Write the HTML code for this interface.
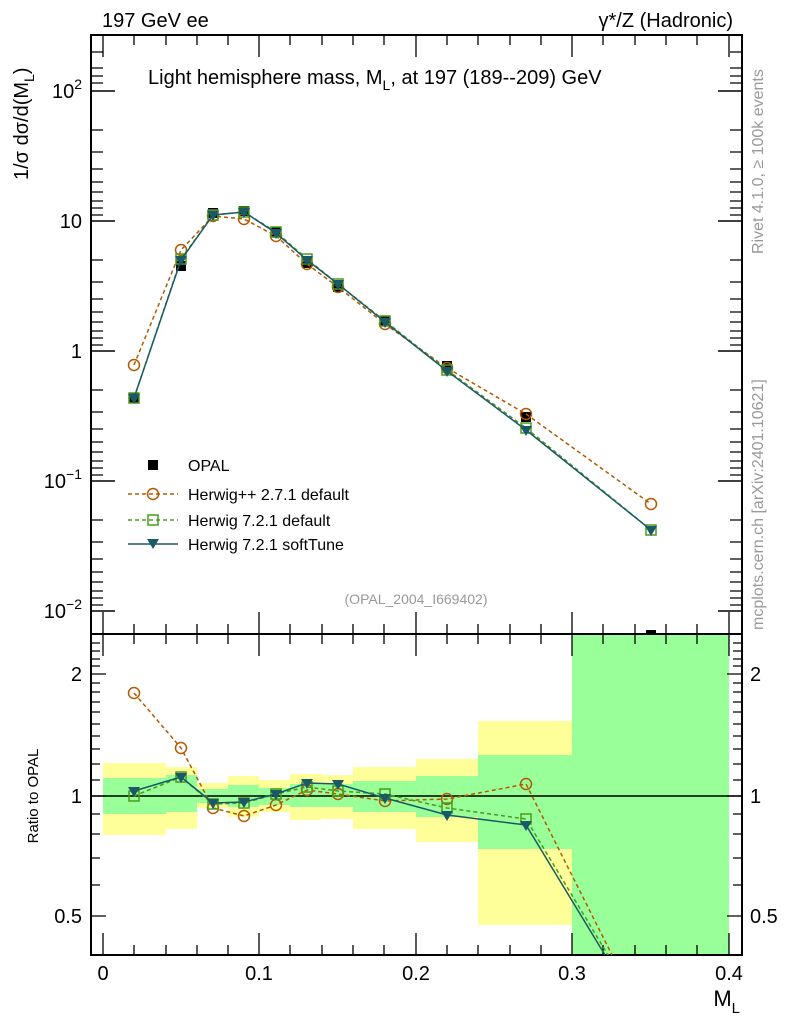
<!DOCTYPE html>
<html><head><meta charset="utf-8"><style>body{margin:0;background:#fff}svg{display:block}text{font-family:"Liberation Sans",sans-serif}</style></head><body>
<svg width="786" height="1024" viewBox="0 0 786 1024" xmlns="http://www.w3.org/2000/svg">
<g>
<rect x="103" y="763" width="63" height="72" fill="#ffff99"/><rect x="103" y="778" width="63" height="36" fill="#99ff99"/>
<rect x="166" y="767" width="31" height="62" fill="#ffff99"/><rect x="166" y="775" width="31" height="37" fill="#99ff99"/>
<rect x="197" y="783" width="31" height="25" fill="#ffff99"/><rect x="197" y="789" width="31" height="14" fill="#99ff99"/>
<rect x="228" y="776" width="31" height="41" fill="#ffff99"/><rect x="228" y="785" width="31" height="22" fill="#99ff99"/>
<rect x="259" y="780" width="31" height="32" fill="#ffff99"/><rect x="259" y="788" width="31" height="17" fill="#99ff99"/>
<rect x="290" y="774" width="32" height="46" fill="#ffff99"/><rect x="290" y="784" width="32" height="23" fill="#99ff99"/>
<rect x="322" y="775" width="31" height="44" fill="#ffff99"/><rect x="322" y="784" width="31" height="23" fill="#99ff99"/>
<rect x="353" y="767" width="63" height="62" fill="#ffff99"/><rect x="353" y="781" width="63" height="31" fill="#99ff99"/>
<rect x="416" y="759" width="62" height="83" fill="#ffff99"/><rect x="416" y="776" width="62" height="41" fill="#99ff99"/>
<rect x="478" y="721" width="94" height="204" fill="#ffff99"/><rect x="478" y="755" width="94" height="94" fill="#99ff99"/>
<rect x="572" y="634" width="157" height="321" fill="#99ff99"/>
</g>
<line x1="91" y1="796" x2="742" y2="796" stroke="#000" stroke-width="1.5"/>
<rect x="91" y="35" width="651" height="599" fill="none" stroke="#000" stroke-width="2"/>
<rect x="91" y="634" width="651" height="321" fill="none" stroke="#000" stroke-width="2"/>
<g stroke="#000" stroke-width="1.5">
<line x1="91" y1="91" x2="115" y2="91"/><line x1="742" y1="91" x2="718" y2="91"/>
<line x1="91" y1="221" x2="115" y2="221"/><line x1="742" y1="221" x2="718" y2="221"/>
<line x1="91" y1="351" x2="115" y2="351"/><line x1="742" y1="351" x2="718" y2="351"/>
<line x1="91" y1="481" x2="115" y2="481"/><line x1="742" y1="481" x2="718" y2="481"/>
<line x1="91" y1="611" x2="115" y2="611"/><line x1="742" y1="611" x2="718" y2="611"/>
</g>
<g stroke="#000" stroke-width="1.2">
<path d="M91 52h12M91 68h12M91 76h12M91 83h12M91 130h12M91 152h12M91 169h12M91 182h12M91 192h12M91 201h12M91 208h12M91 215h12M91 260h12M91 282h12M91 299h12M91 312h12M91 322h12M91 331h12M91 338h12M91 345h12M91 390h12M91 412h12M91 429h12M91 442h12M91 452h12M91 461h12M91 468h12M91 475h12M91 520h12M91 542h12M91 559h12M91 572h12M91 582h12M91 591h12M91 598h12M91 605h12"/>
<path d="M742 52h-12M742 68h-12M742 76h-12M742 83h-12M742 130h-12M742 152h-12M742 169h-12M742 182h-12M742 192h-12M742 201h-12M742 208h-12M742 215h-12M742 260h-12M742 282h-12M742 299h-12M742 312h-12M742 322h-12M742 331h-12M742 338h-12M742 345h-12M742 390h-12M742 412h-12M742 429h-12M742 442h-12M742 452h-12M742 461h-12M742 468h-12M742 475h-12M742 520h-12M742 542h-12M742 559h-12M742 572h-12M742 582h-12M742 591h-12M742 598h-12M742 605h-12"/>
</g>
<g stroke="#000" stroke-width="1.3">
<path d="M103 634v-22M259 634v-22M416 634v-22M572 634v-22M729 634v-22M103 35v22M259 35v22M416 35v22M572 35v22M729 35v22"/>
<path d="M134 634v-10M166 634v-10M197 634v-10M228 634v-10M290 634v-10M322 634v-10M353 634v-10M384 634v-10M447 634v-10M478 634v-10M510 634v-10M541 634v-10M603 634v-10M635 634v-10M666 634v-10M697 634v-10"/>
<path d="M134 35v10M166 35v10M197 35v10M228 35v10M290 35v10M322 35v10M353 35v10M384 35v10M447 35v10M478 35v10M510 35v10M541 35v10M603 35v10M635 35v10M666 35v10M697 35v10"/>
<path d="M103 955v-22M259 955v-22M416 955v-22M572 955v-22M729 955v-22M103 634v22M259 634v22M416 634v22M572 634v22M729 634v22"/>
<path d="M134 955v-10M166 955v-10M197 955v-10M228 955v-10M290 955v-10M322 955v-10M353 955v-10M384 955v-10M447 955v-10M478 955v-10M510 955v-10M541 955v-10M603 955v-10M635 955v-10M666 955v-10M697 955v-10"/>
<path d="M134 634v10M166 634v10M197 634v10M228 634v10M290 634v10M322 634v10M353 634v10M384 634v10M447 634v10M478 634v10M510 634v10M541 634v10M603 634v10M635 634v10M666 634v10M697 634v10"/>
<path d="M91 674h15M91 796h15M91 916h15M742 674h-15M742 796h-15M742 916h-15"/>
<path d="M91 643h9M91 651h9M91 659h9M91 666h9M91 683h9M91 692h9M91 702h9M91 712h9M91 724h9M91 736h9M91 749h9M91 764h9M91 780h9M91 814h9M91 834h9M91 858h9M91 885h9M742 643h-9M742 651h-9M742 659h-9M742 666h-9M742 683h-9M742 692h-9M742 702h-9M742 712h-9M742 724h-9M742 736h-9M742 749h-9M742 764h-9M742 780h-9M742 814h-9M742 834h-9M742 858h-9M742 885h-9"/>
</g>
<g font-size="20" fill="#000">
<text x="102" y="27">197 GeV ee</text>
<text x="733" y="27" text-anchor="end">γ*/Z (Hadronic)</text>
<text x="148" y="84">Light hemisphere mass, M<tspan font-size="14" dy="6">L</tspan><tspan dy="-6">, at 197 (189--209) GeV</tspan></text>
<text x="82" y="98" text-anchor="end">10<tspan font-size="14" dy="-9">2</tspan></text>
<text x="82" y="228" text-anchor="end">10</text>
<text x="82" y="358" text-anchor="end">1</text>
<text x="82" y="488" text-anchor="end">10<tspan font-size="14" dy="-9">−1</tspan></text>
<text x="82" y="618" text-anchor="end">10<tspan font-size="14" dy="-9">−2</tspan></text>
<text x="82" y="681" text-anchor="end">2</text>
<text x="82" y="803" text-anchor="end">1</text>
<text x="82" y="923" text-anchor="end">0.5</text>
<text x="750" y="681">2</text>
<text x="750" y="803">1</text>
<text x="750" y="923">0.5</text>
<text x="103" y="980" text-anchor="middle">0</text>
<text x="259" y="980" text-anchor="middle">0.1</text>
<text x="416" y="980" text-anchor="middle">0.2</text>
<text x="572" y="980" text-anchor="middle">0.3</text>
<text x="729" y="980" text-anchor="middle">0.4</text>
<text x="740" y="1006" text-anchor="end" font-size="22">M<tspan font-size="15" dy="7">L</tspan></text>
<text transform="translate(28,180) rotate(-90)" text-anchor="start">1/σ   dσ/d(M<tspan font-size="14" dy="6">L</tspan><tspan dy="-6">)</tspan></text>
<text transform="translate(38,796) rotate(-90)" text-anchor="middle" font-size="15">Ratio to OPAL</text>
</g>
<g font-size="16" fill="#999">
<text transform="translate(763,254) rotate(-90)">Rivet 4.1.0, ≥ 100k events</text>
<text transform="translate(763,630) rotate(-90)">mcplots.cern.ch [arXiv:2401.10621]</text>
</g>
<text x="416" y="604" font-size="14" fill="#999" text-anchor="middle">(OPAL_2004_I669402)</text>
<g font-size="16" fill="#000">
<rect x="148" y="460" width="10" height="10" fill="#000"/><text x="188" y="471">OPAL</text>
<line x1="128" y1="494" x2="178" y2="494" stroke="#b35900" stroke-width="1.5" stroke-dasharray="4,3"/><circle cx="153" cy="494" r="5.5" fill="none" stroke="#b35900" stroke-width="1.5"/><text x="188" y="500">Herwig++ 2.7.1 default</text>
<line x1="128" y1="520" x2="178" y2="520" stroke="#4c9a1c" stroke-width="1.5" stroke-dasharray="4,3"/><rect x="148" y="515" width="10" height="10" fill="none" stroke="#4c9a1c" stroke-width="1.5"/><text x="188" y="526">Herwig 7.2.1 default</text>
<line x1="128" y1="544" x2="178" y2="544" stroke="#1a5a66" stroke-width="1.5"/><path d="M147 539h12l-6 10z" fill="#1a5a66"/><text x="188" y="550">Herwig 7.2.1 softTune</text>
</g>
<g fill="#000">
<rect x="129" y="393" width="10" height="10"/><rect x="176" y="261" width="10" height="10"/><rect x="208" y="208" width="10" height="10"/><rect x="239" y="206" width="10" height="10"/><rect x="271" y="227" width="10" height="10"/><rect x="302" y="258" width="10" height="10"/><rect x="333" y="282" width="10" height="10"/><rect x="380" y="316" width="10" height="10"/><rect x="442" y="361" width="10" height="10"/><rect x="521" y="412" width="10" height="10"/><rect x="646" y="630" width="10" height="4"/>
</g>
<g fill="none" stroke="#b35900" stroke-width="1.5">
<polyline stroke-dasharray="4,3" points="134,365 181,250 213,216 244,219 276,236 307,264 338,287 385,324 447,368 526,414 651,504"/>
<g><circle cx="134" cy="365" r="5.5"/><circle cx="181" cy="250" r="5.5"/><circle cx="213" cy="216" r="5.5"/><circle cx="244" cy="219" r="5.5"/><circle cx="276" cy="236" r="5.5"/><circle cx="307" cy="264" r="5.5"/><circle cx="338" cy="287" r="5.5"/><circle cx="385" cy="324" r="5.5"/><circle cx="447" cy="368" r="5.5"/><circle cx="526" cy="414" r="5.5"/><circle cx="651" cy="504" r="5.5"/></g>
</g>
<g fill="none" stroke="#4c9a1c" stroke-width="1.5">
<polyline stroke-dasharray="4,3" points="134,398 181,259 213,215 244,212 276,232 307,259 338,284 385,321 447,370 526,428 651,530"/>
<g><rect x="129" y="393" width="10" height="10"/><rect x="176" y="254" width="10" height="10"/><rect x="208" y="210" width="10" height="10"/><rect x="239" y="207" width="10" height="10"/><rect x="271" y="227" width="10" height="10"/><rect x="302" y="254" width="10" height="10"/><rect x="333" y="279" width="10" height="10"/><rect x="380" y="316" width="10" height="10"/><rect x="442" y="365" width="10" height="10"/><rect x="521" y="423" width="10" height="10"/><rect x="646" y="525" width="10" height="10"/></g>
</g>
<g fill="#1a5a66">
<polyline fill="none" stroke="#1a5a66" stroke-width="1.5" points="134,398 181,260 213,215 244,212 276,233 307,260 338,284 385,322 447,371 526,430 651,530"/>
<path d="M128 394h12l-6 10zM175 256h12l-6 10zM207 211h12l-6 10zM238 208h12l-6 10zM270 229h12l-6 10zM301 256h12l-6 10zM332 280h12l-6 10zM379 318h12l-6 10zM441 367h12l-6 10zM520 426h12l-6 10zM645 526h12l-6 10z"/>
</g>
<g fill="none" stroke="#b35900" stroke-width="1.5">
<polyline stroke-dasharray="4,3" points="134,693 181,748 213,808 244,816 276,805 307,790 338,794 385,801 447,799 526,784 612,955"/>
<circle cx="134" cy="693" r="5.5"/><circle cx="181" cy="748" r="5.5"/><circle cx="213" cy="808" r="5.5"/><circle cx="244" cy="816" r="5.5"/><circle cx="276" cy="805" r="5.5"/><circle cx="307" cy="790" r="5.5"/><circle cx="338" cy="794" r="5.5"/><circle cx="385" cy="801" r="5.5"/><circle cx="447" cy="799" r="5.5"/><circle cx="526" cy="784" r="5.5"/>
</g>
<g fill="none" stroke="#4c9a1c" stroke-width="1.5">
<polyline stroke-dasharray="4,3" points="134,796 181,777 213,804 244,803 276,794 307,787 338,791 385,794 447,808 526,819 608,955"/>
<rect x="129" y="791" width="10" height="10"/><rect x="176" y="772" width="10" height="10"/><rect x="208" y="799" width="10" height="10"/><rect x="239" y="798" width="10" height="10"/><rect x="271" y="789" width="10" height="10"/><rect x="302" y="782" width="10" height="10"/><rect x="333" y="786" width="10" height="10"/><rect x="380" y="789" width="10" height="10"/><rect x="442" y="803" width="10" height="10"/><rect x="521" y="814" width="10" height="10"/>
</g>
<g fill="#1a5a66">
<polyline fill="none" stroke="#1a5a66" stroke-width="1.5" points="134,791 181,777 213,803 244,802 276,794 307,783 338,784 385,798 447,815 526,825 605,955"/>
<path d="M128 787h12l-6 10zM175 773h12l-6 10zM207 799h12l-6 10zM238 798h12l-6 10zM270 790h12l-6 10zM301 779h12l-6 10zM332 780h12l-6 10zM379 794h12l-6 10zM441 811h12l-6 10zM520 821h12l-6 10z"/>
</g>
</svg>
</body></html>
